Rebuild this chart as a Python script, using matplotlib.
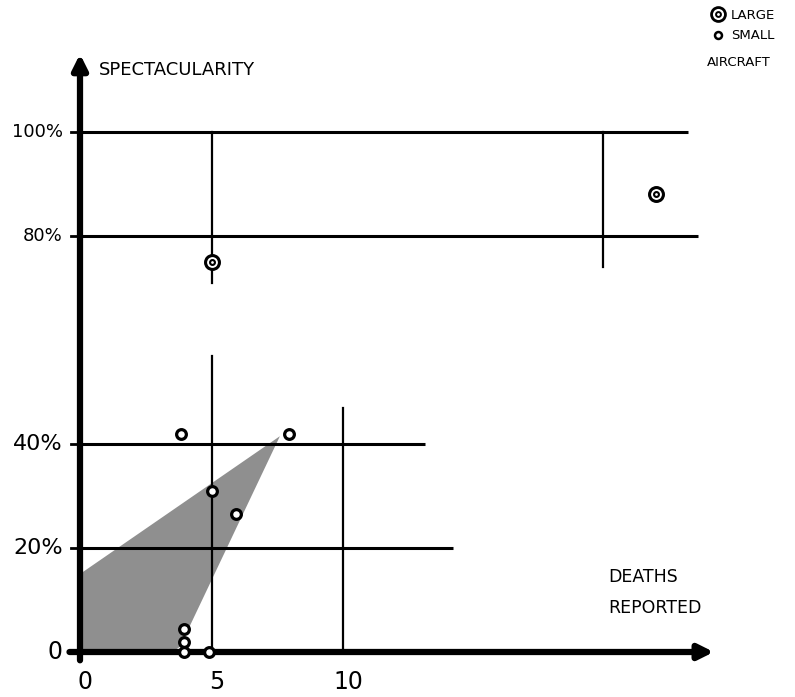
import matplotlib
matplotlib.use("Agg")
import matplotlib.pyplot as plt
from matplotlib.lines import Line2D
from matplotlib.legend_handler import HandlerTuple

# spectacularity (%) vs deaths reported
large_x = [5.0, 21.9]
large_y = [75, 88]
small_x = [3.85, 7.95, 5.0, 5.95, 3.95, 3.95, 3.95, 4.9]
small_y = [42, 42, 31, 26.5, 4.5, 2, 0, 0]

# shaded wedge
wedge_x = [0, 0, 7.6, 3.8, 3.5]
wedge_y = [0, 15, 41.5, 1, 0]

# horizontal rules: level and where they stop
hline_y = [100, 80, 40, 20]
hline_end = [23.1, 23.5, 13.1, 14.2]
# vertical rules
vline_x = [5, 5, 19.9, 10]
vline_lo = [71, 0, 74, 0]
vline_hi = [100, 57, 100, 47]

ytick_vals = [100, 80, 40, 20, 0]
ytick_labels = ['100%', '80%', '40%', '20%', '0']
ytick_sizes = [13, 13, 16, 16, 17]
xtick_vals = [0, 5, 10]
xtick_labels = ['0', '5', '10']

# pixel scale of the drawing
PX_X = 26.3   # px per death
PX_Y = 5.2    # px per %

fig = plt.figure(figsize=(7.95, 6.97), dpi=100)
ax = fig.add_axes([0, 0, 1, 1])
ax.set_xlim(-80 / PX_X, 715 / PX_X)
ax.set_ylim((652 - 697) / PX_Y, 652 / PX_Y)
ax.axis('off')

ax.fill(wedge_x, wedge_y, facecolor='#8f8f8f', edgecolor='none', zorder=1)

for y, xe in zip(hline_y, hline_end):
    ax.plot([0, xe], [y, y], color='black', lw=2.2, solid_capstyle='butt', zorder=2)
    ax.plot([-0.35, 0], [y, y], color='black', lw=2, zorder=2)
for x, lo, hi in zip(vline_x, vline_lo, vline_hi):
    ax.plot([x, x], [lo, hi], color='black', lw=1.6, zorder=2)

# axes with arrows
ax.annotate('', xy=(0, 115), xytext=(0, -1.6),
            arrowprops=dict(arrowstyle='-|>', lw=4.5, color='black', mutation_scale=22,
                            shrinkA=0, shrinkB=0), zorder=3)
ax.annotate('', xy=(24.1, 0), xytext=(-0.4, 0),
            arrowprops=dict(arrowstyle='-|>', lw=4.5, color='black', mutation_scale=22,
                            shrinkA=0, shrinkB=0), zorder=3)

# points
ax.plot(large_x, large_y, 'o', ms=10, mfc='white', mec='black', mew=2.2, zorder=5)
ax.plot(large_x, large_y, 'o', ms=3.5, mfc='white', mec='black', mew=1.5, zorder=6)
ax.plot(small_x, small_y, 'o', ms=7, mfc='white', mec='black', mew=2.3, zorder=5)

# tick labels
for v, lab, fs in zip(ytick_vals, ytick_labels, ytick_sizes):
    ax.text(-0.65, v, lab, ha='right', va='center', fontsize=fs)
for v, lab in zip(xtick_vals, xtick_labels):
    ax.text(v + 0.2, -5.7, lab, ha='center', va='center', fontsize=17)

ax.text(0.7, 112, 'SPECTACULARITY', ha='left', va='center', fontsize=13)
ax.text(20.1, 14.5, 'DEATHS', ha='left', va='center', fontsize=12.5)
ax.text(20.1, 8.5, 'REPORTED', ha='left', va='center', fontsize=12.5)

# legend
h_large = (Line2D([], [], ls='', marker='o', ms=10, mfc='white', mec='black', mew=2),
           Line2D([], [], ls='', marker='o', ms=3.5, mfc='white', mec='black', mew=1.4))
h_small = Line2D([], [], ls='', marker='o', ms=5, mfc='white', mec='black', mew=1.8)
ax.legend([h_large, h_small], ['LARGE', 'SMALL'],
          handler_map={tuple: HandlerTuple(ndivide=1, pad=0)},
          loc='upper left', bbox_to_anchor=(0.884, 1.0), borderaxespad=0.25,
          frameon=False, fontsize=9.5, handlelength=1.0, handletextpad=0.5,
          labelspacing=0.6)
ax.text(23.85, 113.3, 'AIRCRAFT', ha='left', va='center', fontsize=9.5)

fig.savefig('out.png', dpi=100)
